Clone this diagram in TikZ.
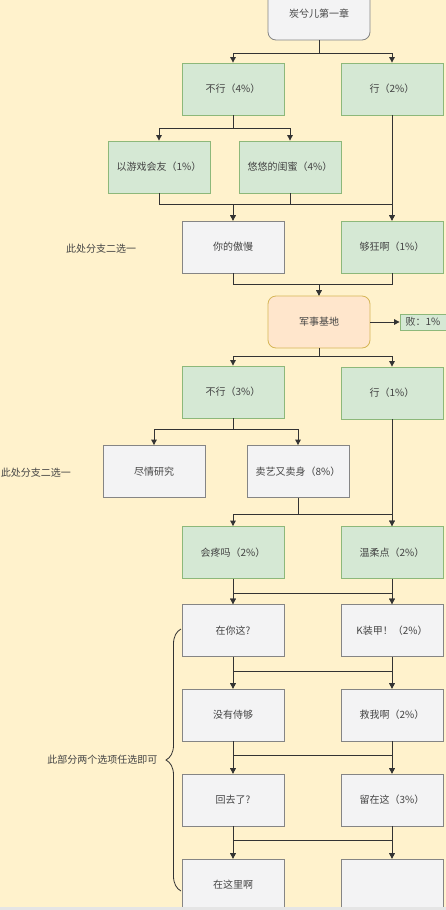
\documentclass[tikz,border=0pt]{standalone}
\usepackage{fontspec}
\setmainfont{Noto Sans CJK SC}
\usetikzlibrary{arrows.meta,decorations.pathreplacing}
\definecolor{paper}{HTML}{FFF2CC}
\definecolor{ink}{HTML}{333333}
\definecolor{word}{HTML}{444444}
\definecolor{gfill}{HTML}{D5E8D4}
\definecolor{gline}{HTML}{8DB87A}
\definecolor{sfill}{HTML}{F3F3F4}
\definecolor{sline}{HTML}{858585}
\definecolor{ofill}{HTML}{FFE6CC}
\definecolor{oline}{HTML}{D6B656}

\begin{document}
\begin{tikzpicture}[x=1pt,y=-1pt,
  every node/.style={font=\fontsize{10pt}{12pt}\selectfont,text=word},
  box/.style={draw,line width=0.8pt,minimum width=102pt,minimum height=52pt,inner sep=0pt},
  greenbox/.style={box,fill=gfill,draw=gline},
  graybox/.style={box,fill=sfill,draw=sline},
  link/.style={draw=ink,line width=0.9pt,-{Triangle[width=5.5pt,length=5.5pt]}}]
\useasboundingbox (0,0) rectangle (446,910);
\clip (0,0) rectangle (446,910);
\fill[paper] (0,0) rectangle (446,910);

\node[graybox,rounded corners=8pt] (ch1) at (319,14) {炭兮儿第一章};
\node[greenbox] (bx4) at (233,89) {不行（4\%）};
\node[greenbox] (ok2) at (392,89) {行（2\%）};
\node[greenbox] (yx) at (159,167) {以游戏会友（1\%）};
\node[greenbox] (yy) at (290,167) {悠悠的闺蜜（4\%）};
\node[graybox] (am) at (233,247) {你的傲慢};
\node[greenbox] (gk) at (392,247) {够狂啊（1\%）};
\node[box,rounded corners=8pt,fill=ofill,draw=oline] (base) at (319,322) {军事基地};
\node[greenbox,minimum width=46pt,minimum height=16pt] (fail) at (423,322) {败：1\%};
\node[greenbox] (bx3) at (233,392) {不行（3\%）};
\node[greenbox] (ok1) at (392,393) {行（1\%）};
\node[graybox] (jq) at (154,471.5) {尽情研究};
\node[graybox] (my) at (298,471.5) {卖艺又卖身（8\%）};
\node[greenbox] (ht) at (233,552.5) {会疼吗（2\%）};
\node[greenbox] (wr) at (392,552.5) {温柔点（2\%）};
\node[graybox] (zn) at (233,630.5) {在你这?};
\node[graybox] (kz) at (392,630.5) {K装甲！（2\%）};
\node[graybox] (mt) at (233,715) {没有侍够};
\node[graybox] (jw) at (392,715) {救我啊（2\%）};
\node[graybox] (hq) at (233,800) {回去了?};
\node[graybox] (lz) at (392,800) {留在这（3\%）};
\node[graybox] (zl) at (233,885) {在这里啊};
\node[graybox] (blank) at (392,885) {};

\node (pick1) at (101,249) {此处分支二选一};
\node (pick2) at (36,473) {此处分支二选一};

\draw[link] (ch1.south) -- ++(0,13) -| (bx4.north);
\draw[link] (ch1.south) -- ++(0,13) -| (ok2.north);
\draw[link] (bx4.south) -- ++(0,13) -| (yx.north);
\draw[link] (bx4.south) -- ++(0,13) -| (yy.north);
\draw[link] (yx.south) -- ++(0,11) -| (am.north);
\draw[link] (yy.south) -- ++(0,11) -| (am.north);
\draw[link] (yy.south) -- ++(0,11) -| (gk.north);
\draw[link] (ok2.south) -- (gk.north);
\draw[link] (am.south) -- ++(0,11) -| (base.north);
\draw[link] (gk.south) -- ++(0,11) -| (base.north);
\draw[link] (base.east) -- (fail.west);
\draw[link] (base.south) -- ++(0,8) -| (bx3.north);
\draw[link] (base.south) -- ++(0,8) -| (ok1.north);
\draw[link] (bx3.south) -- ++(0,11) -| (jq.north);
\draw[link] (bx3.south) -- ++(0,11) -| (my.north);
\draw[link] (my.south) -- ++(0,17) -| (ht.north);
\draw[link] (my.south) -- ++(0,17) -| (wr.north);
\draw[link] (ok1.south) -- (wr.north);
\foreach \a/\b/\c/\d in {ht/wr/zn/kz,zn/kz/mt/jw,mt/jw/hq/lz,hq/lz/zl/blank}{
  \draw[link] (\a.south) -- ++(0,14.5) -| (\c.north);
  \draw[link] (\a.south) -- ++(0,14.5) -| (\d.north);
  \draw[link] (\b.south) -- ++(0,14.5) -| (\c.north);
  \draw[link] (\b.south) -- ++(0,14.5) -| (\d.north);
}

\coordinate (bracetop) at (181,629);
\coordinate (bracebot) at (181,891);
\draw[ink,line width=0.8pt,decorate,decoration={brace,amplitude=15pt}] (bracebot) -- (bracetop);
\node[anchor=east] (note) at (161,760) {此部分两个选项任选即可};

\fill[black!10] (0,907) rectangle (446,910);
\end{tikzpicture}
\end{document}
